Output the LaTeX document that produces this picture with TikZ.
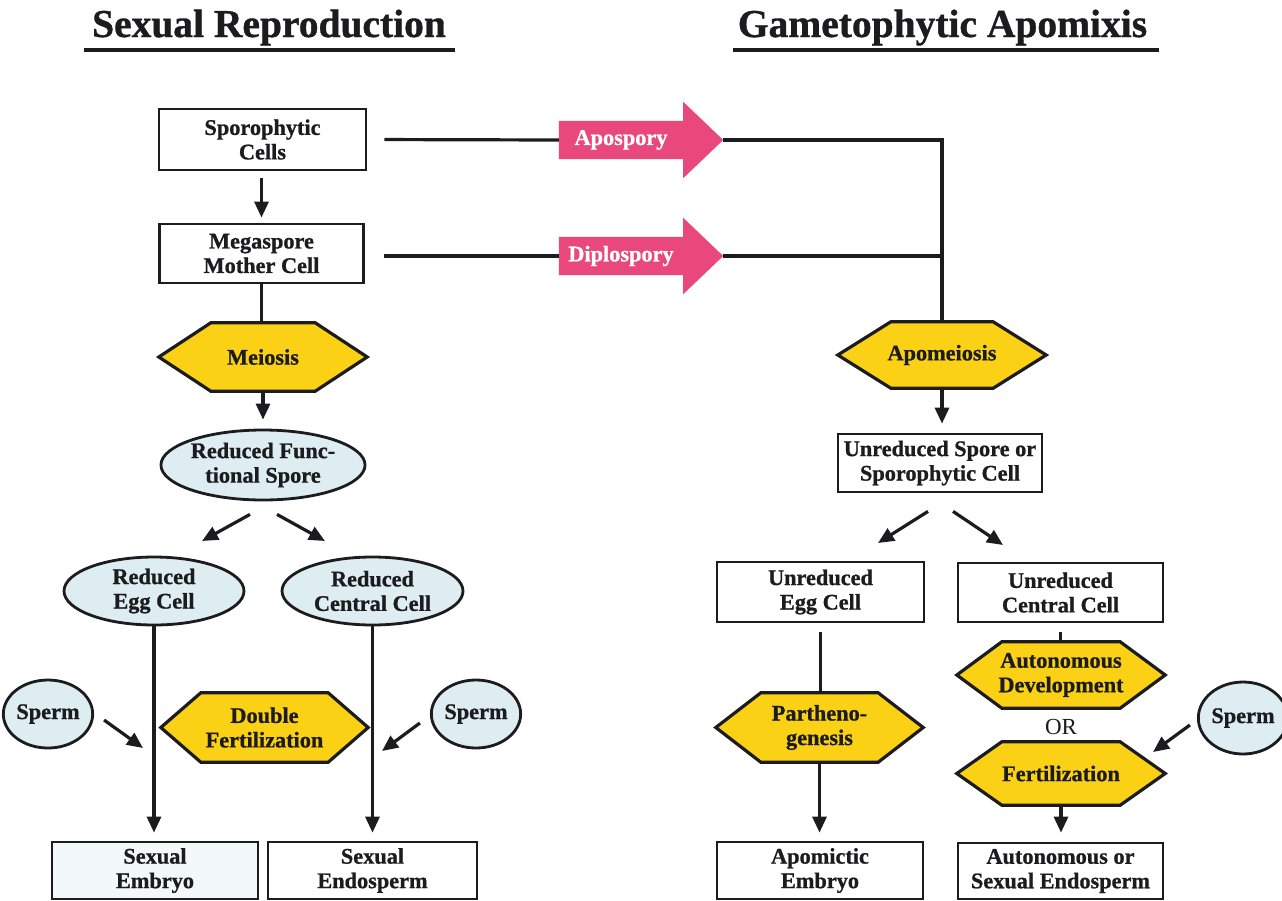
\documentclass[tikz,border=0pt]{standalone}
\usepackage{fontspec}
\setmainfont{Liberation Serif}[BoldFeatures={FakeBold=0.9}]
\usetikzlibrary{shapes.geometric,arrows.meta,backgrounds,calc}
\definecolor{hexyellow}{RGB}{251,209,22}
\definecolor{pinkarrow}{RGB}{233,72,124}
\definecolor{paleblue}{RGB}{221,237,242}
\definecolor{paleboxblue}{RGB}{243,248,251}
\definecolor{inkc}{RGB}{28,28,30}
\tikzset{
  lbl/.style={font=\fontsize{22.3}{24.5}\selectfont\bfseries, text=inkc, align=center, inner sep=0pt},
  boxn/.style={lbl, rectangle, draw=inkc, line width=2.8, fill=white},
  oval/.style={lbl, ellipse, draw=inkc, line width=2.8, fill=paleblue},
  hexlbl/.style={lbl, rectangle},
  hexshape/.style={draw=inkc, fill=hexyellow, line width=3.2, line join=miter},
  conn/.style={draw=inkc, line width=3.2, line join=miter},
  arr/.style={conn, -{Triangle[length=16pt,width=14pt]}},
  pinkbody/.style={lbl, text=white, rectangle},
  titletext/.style={font=\fontsize{39.5}{44}\selectfont\bfseries, text=inkc, inner sep=0pt, anchor=base},
  uline/.style={draw=inkc, line width=3.4},
}
\newcommand\hexnode[7]{%
  \node[hexlbl, minimum width=#4, minimum height=#5] (#1) at (#2,#3) {#7};
  \begin{scope}[on background layer]
    \filldraw[hexshape] ([xshift=#6]#1.north west) -- ([xshift=-#6]#1.north east) -- (#1.east)
      -- ([xshift=-#6]#1.south east) -- ([xshift=#6]#1.south west) -- (#1.west) -- cycle;
  \end{scope}}
\newcommand\pinkarrow[4]{% name, x, y, text
  \node[pinkbody, minimum width=124, minimum height=38] (#1) at (#2,#3) {#4};
  \begin{scope}[on background layer]
    \fill[pinkarrow] (#1.north west) -- (#1.north east) -- ++(0,-19) -- ($(#1.east)+(40,0)$)
      -- ($(#1.south east)+(0,19)$) -- (#1.south east) -- (#1.south west) -- cycle;
  \end{scope}}
\begin{document}
\begin{tikzpicture}[x=1pt,y=-1pt]
\useasboundingbox (0,0) rectangle (1282,900);

% titles
\node[titletext] (t1) at (269,37) {Sexual Reproduction};
\draw[uline] ([xshift=-8pt,yshift=-13pt]t1.base west) -- ([xshift=9pt,yshift=-13pt]t1.base east);
\node[titletext] (t2) at (942.5,37) {Gametophytic Apomixis};
\draw[uline] ([xshift=-5pt,yshift=-13pt]t2.base west) -- ([xshift=12pt,yshift=-13pt]t2.base east);

% ---------- left: sexual reproduction ----------
\node[boxn, minimum width=207, minimum height=61] (spc) at (262.5,139.5) {Sporophytic\\Cells};
\node[boxn, minimum width=204, minimum height=59] (mmc) at (261.5,253.5) {Megaspore\\Mother Cell};
\hexnode{meiosis}{263}{357}{208}{68}{52}{Meiosis}
\node[oval, minimum width=181, minimum height=70] (spore) at (263,465) {Reduced Func-\\tional Spore};
\node[oval, minimum width=180, minimum height=68] (egg) at (154,591) {Reduced\\Egg Cell};
\node[oval, minimum width=181, minimum height=68] (central) at (372.5,591) {Reduced\\Central Cell};
\node[oval, minimum width=78, minimum height=68] (spermL) at (48,714) {Sperm};
\hexnode{dfert}{264.5}{727.5}{207}{69}{40}{Double\\Fertilization}
\node[oval, minimum width=72, minimum height=68] (spermR) at (476,714) {Sperm};
\node[boxn, fill=paleboxblue, minimum width=206, minimum height=57] (embryo) at (155,870.5) {Sexual\\Embryo};
\node[boxn, minimum width=209, minimum height=57] (endo) at (372.5,870.5) {Sexual\\Endosperm};

\draw[arr, shorten <=7pt, shorten >=5pt] (spc.south -| mmc.north) -- (mmc.north);
\draw[conn] (mmc.south) -- (mmc.south |- meiosis.north);
\draw[arr, shorten >=9pt] (meiosis.south) -- (spore.north);
\coordinate (d1e) at (202,541);
\coordinate (d2e) at (325,541);
\draw[arr] ([shift={(-13,13)}]spore.south) -- (d1e);
\draw[arr] ([shift={(14,13)}]spore.south) -- (d2e);
\draw[arr, shorten >=8pt] (egg.south) -- (egg.south |- embryo.north);
\draw[arr, shorten >=8pt] (central.south) -- (central.south |- endo.north);
\coordinate (sLe) at (143,748);
\coordinate (sRe) at (382,751);
\draw[arr] ([shift={(10,6)}]spermL.east) -- (sLe);
\draw[arr] ([shift={(-10,9)}]spermR.west) -- (sRe);

% ---------- pink arrows ----------
\pinkarrow{apo}{621}{140}{Apospory}
\pinkarrow{dip}{621}{256}{Diplospory}

% ---------- right: gametophytic apomixis ----------
\hexnode{apomei}{942}{355}{208}{66}{53}{Apomeiosis}
\node[boxn, minimum width=204, minimum height=58] (unspore) at (940,463) {Unreduced Spore or\\Sporophytic Cell};
\node[boxn, minimum width=207, minimum height=60] (uegg) at (820.5,592) {Unreduced\\Egg Cell};
\node[boxn, minimum width=205, minimum height=59] (ucent) at (1060.5,592.5) {Unreduced\\Central Cell};
\hexnode{parth}{819.5}{727.5}{207}{69}{45}{Partheno-\\genesis}
\hexnode{autodev}{1061}{675}{208}{66}{45}{Autonomous\\Development}
\node[font=\fontsize{23}{26}\selectfont, text=inkc, inner sep=0pt] (ortext) at (1061,727) {OR};
\hexnode{fert}{1061}{773.5}{208}{63}{45}{Fertilization}
\node[oval, minimum width=76, minimum height=72] (spermA) at (1243,718) {Sperm};
\node[boxn, minimum width=206, minimum height=57] (aembryo) at (820,870.5) {Apomictic\\Embryo};
\node[boxn, minimum width=205, minimum height=56] (aendo) at (1060.5,871) {Autonomous or\\Sexual Endosperm};

\draw[conn, shorten <=17pt] (spc.east) -- (apo.west);
\draw[conn, shorten <=19pt] (mmc.east |- dip.west) -- (dip.west);
\draw[conn] ([xshift=40pt]apo.east) -| (apomei.north);
\draw[conn] ([xshift=40pt]dip.east) -- (dip.east -| apomei.north);
\draw[arr, shorten >=9pt] (apomei.south) -- (apomei.south |- unspore.north);
\coordinate (d3e) at (878,543);
\coordinate (d4e) at (1003,545);
\draw[arr] ([shift={(-12,18)}]unspore.south) -- (d3e);
\draw[arr] ([shift={(13,18)}]unspore.south) -- (d4e);
\draw[conn, shorten <=9pt] (uegg.south) -- (uegg.south |- parth.north);
\draw[arr, shorten >=8pt] (parth.south) -- (parth.south |- aembryo.north);
\draw[conn, shorten <=9pt] (ucent.south) -- (ucent.south |- autodev.north);
\draw[arr, shorten >=9pt] (fert.south) -- (fert.south |- aendo.north);
\coordinate (sAe) at (1153,752);
\draw[arr] ([shift={(-7,7)}]spermA.west) -- (sAe);
\end{tikzpicture}
\end{document}
